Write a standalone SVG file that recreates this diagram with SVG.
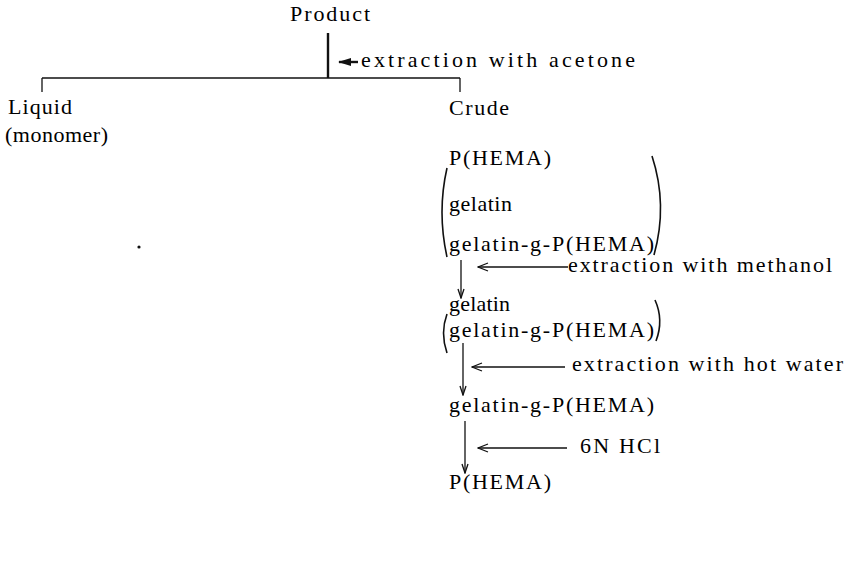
<svg xmlns="http://www.w3.org/2000/svg" width="844" height="571" viewBox="0 0 844 571">
<style>
text{font-family:"Liberation Serif","Times New Roman",serif;font-size:22px;fill:#000}
.ln{stroke:#111;stroke-width:1.3;fill:none}
.thk{stroke:#111;stroke-width:2.4;fill:none}
.par{stroke:#111;stroke-width:1.6;fill:none}
</style>
<defs>
<marker id="open" viewBox="0 0 12 10" refX="1" refY="5" markerWidth="12" markerHeight="10" markerUnits="userSpaceOnUse" orient="auto">
<path d="M11,1 L1,5 L11,9" fill="none" stroke="#111" stroke-width="1.3"/>
</marker>
<marker id="down" viewBox="0 0 8 12" refX="4" refY="11" markerWidth="8" markerHeight="12" markerUnits="userSpaceOnUse" orient="0">
<path d="M1,2 L4,11 L7,2" fill="none" stroke="#111" stroke-width="1.3"/>
</marker>
<marker id="solid" viewBox="0 0 13 8" refX="1" refY="4" markerWidth="13" markerHeight="8" markerUnits="userSpaceOnUse" orient="0">
<path d="M0,4 L13,0 L13,8 Z" fill="#111"/>
</marker>
</defs>
<g id="connectors">
<line class="thk" x1="328" y1="33" x2="328" y2="78"/>
<line class="ln" x1="42" y1="78" x2="460" y2="78"/>
<line class="ln" x1="42" y1="78" x2="42" y2="92"/>
<line class="ln" x1="460" y1="78" x2="460" y2="92"/>
<line class="thk" x1="339" y1="62" x2="358" y2="62" marker-start="url(#solid)"/>
<line class="ln" x1="461" y1="260" x2="461" y2="298" marker-end="url(#down)"/>
<line class="ln" x1="478" y1="267" x2="568" y2="267" marker-start="url(#open)"/>
<line class="ln" x1="463" y1="343" x2="463" y2="395" marker-end="url(#down)"/>
<line class="ln" x1="472" y1="367" x2="565" y2="367" marker-start="url(#open)"/>
<line class="ln" x1="465" y1="421" x2="465" y2="473" marker-end="url(#down)"/>
<line class="ln" x1="478" y1="448" x2="567" y2="448" marker-start="url(#open)"/>
</g>
<g id="product"><text x="290" y="21" textLength="80" lengthAdjust="spacing">Product</text></g>
<g id="label-acetone"><text x="361" y="67" textLength="274" lengthAdjust="spacing">extraction with acetone</text></g>
<g id="liquid"><text x="8" y="114" textLength="64" lengthAdjust="spacing">Liquid</text><text x="5" y="142" textLength="103" lengthAdjust="spacing">(monomer)</text></g>
<g id="crude"><text x="449" y="115" textLength="60" lengthAdjust="spacing">Crude</text></g>
<g id="crude-mix">
<path class="par" d="M447,168 Q437,212 447,257"/>
<path class="par" d="M652,156 Q668,205 654,255"/>
<text x="449" y="165" textLength="102" lengthAdjust="spacing">P(HEMA)</text>
<text x="449" y="211" textLength="63" lengthAdjust="spacing">gelatin</text>
<text x="449" y="251" textLength="205" lengthAdjust="spacing">gelatin-g-P(HEMA)</text>
</g>
<g id="label-methanol"><text x="568" y="272" textLength="264" lengthAdjust="spacing">extraction with methanol</text></g>
<g id="mix2">
<path class="par" d="M447,314 Q440,333 447,353"/>
<path class="par" d="M655,300 Q664,320 656,341"/>
<text x="449" y="311" textLength="61" lengthAdjust="spacing">gelatin</text>
<text x="449" y="337" textLength="205" lengthAdjust="spacing">gelatin-g-P(HEMA)</text>
</g>
<g id="label-hotwater"><text x="572" y="371" textLength="271" lengthAdjust="spacing">extraction with hot water</text></g>
<g id="graft"><text x="449" y="412" textLength="205" lengthAdjust="spacing">gelatin-g-P(HEMA)</text></g>
<g id="label-hcl"><text x="580" y="453" textLength="80" lengthAdjust="spacing">6N HCl</text></g>
<g id="phema"><text x="449" y="489" textLength="102" lengthAdjust="spacing">P(HEMA)</text></g>
<circle cx="139" cy="247" r="1.6" fill="#111"/>
</svg>
